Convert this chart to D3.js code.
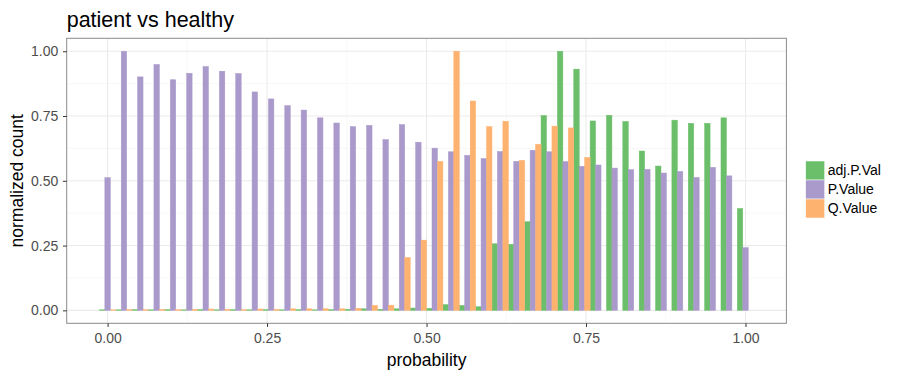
<!DOCTYPE html>
<html>
<head>
<meta charset="utf-8">
<script src="https://cdn.jsdelivr.net/npm/d3@7"></script>
<style>
  body { margin: 0; background: #fff; }
  svg { font-family: "Liberation Sans", Arial, sans-serif; }
</style>
</head>
<body>
<div id="chart"></div>
<script>
// histogram, 40 bins of width 1/39, bin centres at 0 .. 1
const binCount = 40;
const binWidth = 1 / 39;

const seriesNames = ["adj.P.Val", "P.Value", "Q.Value"];
const seriesColors = ["#6cbf6a", "#aa99cb", "#fdb270"];

const adjPVal = [
  0.002, 0.002, 0.003, 0.002, 0.003, 0.002, 0.003, 0.002, 0.003, 0.002,
  0.003, 0.002, 0.003, 0.002, 0.003, 0.004, 0.006, 0.004, 0.006, 0.009,
  0.008, 0.022, 0.019, 0.014, 0.257, 0.255, 0.342, 0.752, 1.000, 0.931,
  0.731, 0.753, 0.729, 0.615, 0.557, 0.734, 0.722, 0.722, 0.743, 0.393
];
const pValue = [
  0.512, 1.000, 0.901, 0.949, 0.890, 0.915, 0.941, 0.923, 0.914, 0.843,
  0.816, 0.790, 0.773, 0.743, 0.723, 0.709, 0.714, 0.659, 0.717, 0.649,
  0.626, 0.612, 0.598, 0.586, 0.613, 0.575, 0.618, 0.612, 0.574, 0.556,
  0.561, 0.549, 0.543, 0.544, 0.530, 0.536, 0.513, 0.552, 0.519, 0.242
];
const qValue = [
  0.002, 0.003, 0.003, 0.004, 0.003, 0.004, 0.005, 0.004, 0.003, 0.005,
  0.004, 0.006, 0.006, 0.006, 0.006, 0.008, 0.019, 0.020, 0.204, 0.271,
  0.575, 1.000, 0.808, 0.709, 0.730, 0.579, 0.641, 0.711, 0.704, 0.590,
  0, 0, 0, 0, 0, 0, 0, 0, 0, 0
];

const xTicks = [0, 0.25, 0.5, 0.75, 1];
const yTicks = [0, 0.25, 0.5, 0.75, 1];
const xMinor = [0.125, 0.375, 0.625, 0.875];
const yMinor = [0.125, 0.375, 0.625, 0.875];

const W = 900, H = 376;
const panel = {left: 66.7, right: 786.4, top: 38.3, bottom: 323.3};

const svg = d3.select("#chart").append("svg")
  .attr("width", W)
  .attr("height", H);

// ggplot-style 5% expansion around the bar extent
const xLo = -binWidth / 2, xHi = (binCount - 1) * binWidth + binWidth / 2;
const xPad = (xHi - xLo) * 0.05;
const x = d3.scaleLinear()
  .domain([xLo - xPad, xHi + xPad])
  .range([panel.left, panel.right]);
const y = d3.scaleLinear()
  .domain([-0.05, 1.05])
  .range([panel.bottom, panel.top]);

// grid
const grid = svg.append("g");
grid.selectAll(".ymin").data(yMinor).join("line")
  .attr("x1", panel.left).attr("x2", panel.right)
  .attr("y1", d => y(d)).attr("y2", d => y(d))
  .attr("stroke", "#f4f4f4").attr("stroke-width", 0.6);
grid.selectAll(".xmin").data(xMinor).join("line")
  .attr("y1", panel.top).attr("y2", panel.bottom)
  .attr("x1", d => x(d)).attr("x2", d => x(d))
  .attr("stroke", "#f4f4f4").attr("stroke-width", 0.6);
grid.selectAll(".ymaj").data(yTicks).join("line")
  .attr("x1", panel.left).attr("x2", panel.right)
  .attr("y1", d => y(d)).attr("y2", d => y(d))
  .attr("stroke", "#ebebeb").attr("stroke-width", 1.1);
grid.selectAll(".xmaj").data(xTicks).join("line")
  .attr("y1", panel.top).attr("y2", panel.bottom)
  .attr("x1", d => x(d)).attr("x2", d => x(d))
  .attr("stroke", "#ebebeb").attr("stroke-width", 1.1);

// bars, dodged inside each bin
const allSeries = [adjPVal, pValue, qValue];
const barW = binWidth / 3;
const bars = [];
allSeries.forEach((vals, s) => {
  vals.forEach((v, i) => {
    const center = i * binWidth;
    bars.push({s: s, x0: center - binWidth / 2 + s * barW, v: v});
  });
});

svg.append("g").selectAll("rect")
  .data(bars)
  .join("rect")
    .attr("x", d => x(d.x0))
    .attr("width", d => x(d.x0 + barW) - x(d.x0))
    .attr("y", d => y(d.v))
    .attr("height", d => y(0) - y(d.v))
    .attr("fill", d => seriesColors[d.s])
    .attr("stroke", d => seriesColors[d.s])
    .attr("stroke-width", 0.5);

// panel border
svg.append("rect")
  .attr("x", panel.left).attr("y", panel.top)
  .attr("width", panel.right - panel.left)
  .attr("height", panel.bottom - panel.top)
  .attr("fill", "none")
  .attr("stroke", "#8a8a8a")
  .attr("stroke-width", 1);

// axes
const xAxis = svg.append("g")
  .attr("transform", `translate(0,${panel.bottom})`)
  .call(d3.axisBottom(x).tickValues(xTicks).tickFormat(d3.format(".2f")).tickSize(3.7).tickPadding(6.3));
const yAxis = svg.append("g")
  .attr("transform", `translate(${panel.left},0)`)
  .call(d3.axisLeft(y).tickValues(yTicks).tickFormat(d3.format(".2f")).tickSize(3.7).tickPadding(4.7));

[xAxis, yAxis].forEach(a => {
  a.select(".domain").remove();
  a.selectAll(".tick line").attr("stroke", "#333");
  a.selectAll("text")
    .style("font-family", "Liberation Sans, Arial, sans-serif")
    .style("font-size", "14px")
    .attr("fill", "#4d4d4d");
});

// axis titles
svg.append("text")
  .attr("x", (panel.left + panel.right) / 2)
  .attr("y", 365.5)
  .attr("text-anchor", "middle")
  .style("font-size", "17.5px")
  .attr("fill", "#000")
  .text("probability");

svg.append("text")
  .attr("transform", `translate(23,${(panel.top + panel.bottom) / 2}) rotate(-90)`)
  .attr("text-anchor", "middle")
  .style("font-size", "17.5px")
  .attr("fill", "#000")
  .text("normalized count");

// title
svg.append("text")
  .attr("x", panel.left)
  .attr("y", 26.5)
  .style("font-size", "21.5px")
  .attr("fill", "#000")
  .text("patient vs healthy");

// legend
const keySize = 19;
const legend = svg.append("g")
  .attr("transform", "translate(805.7,161)");
legend.selectAll("rect")
  .data(seriesNames)
  .join("rect")
    .attr("x", 0)
    .attr("y", (d, i) => i * keySize)
    .attr("width", keySize)
    .attr("height", keySize)
    .attr("fill", (d, i) => seriesColors[i])
    .attr("stroke", "#fff")
    .attr("stroke-width", 0.5);
legend.selectAll("text")
  .data(seriesNames)
  .join("text")
    .attr("x", keySize + 3)
    .attr("y", (d, i) => i * keySize + keySize / 2)
    .attr("dy", "0.35em")
    .style("font-size", "14px")
    .attr("fill", "#000")
    .text(d => d);
</script>
</body>
</html>
